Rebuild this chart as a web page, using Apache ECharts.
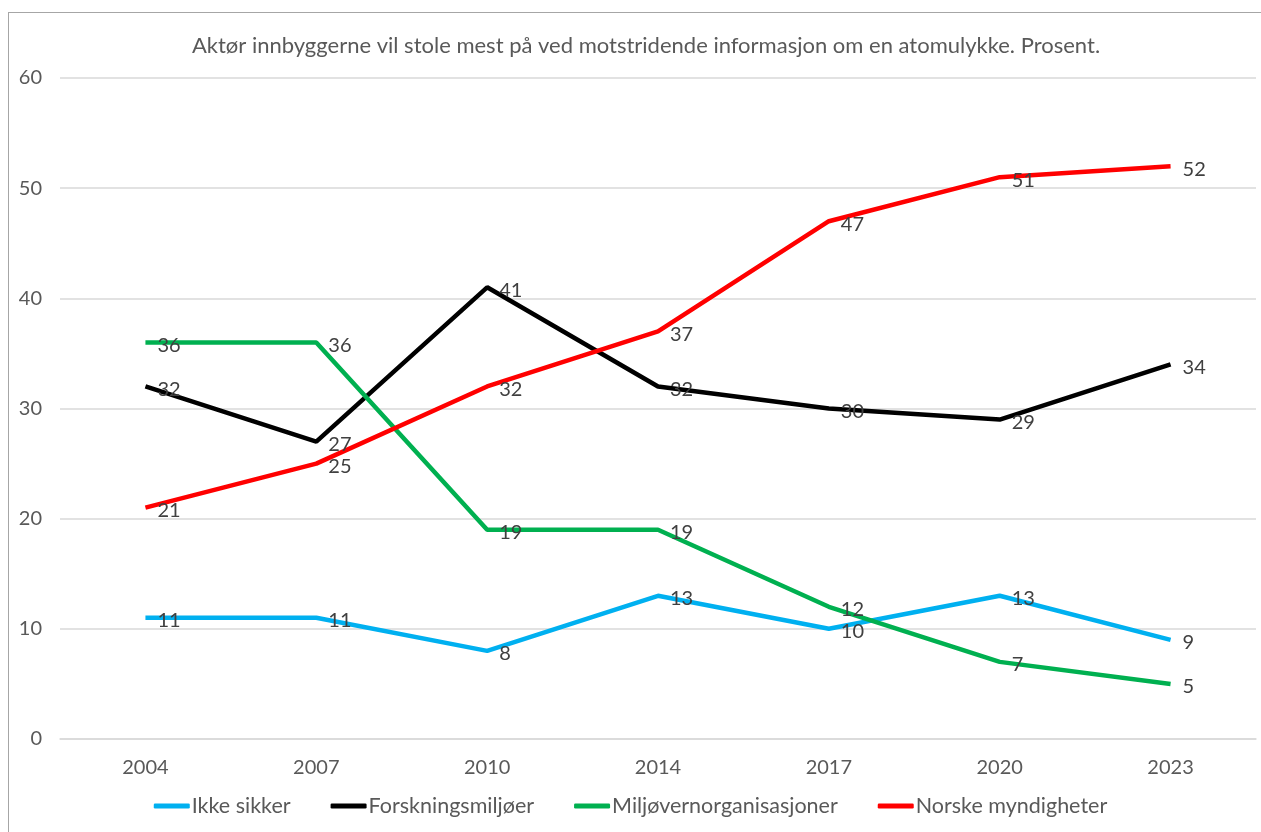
<!DOCTYPE html>
<html>
<head>
<meta charset="utf-8">
<script src="https://cdn.jsdelivr.net/npm/echarts@6/dist/echarts.min.js"></script>
<style>
  html, body { margin: 0; padding: 0; background: #fff; }
  .frame {
    position: absolute; left: 8px; top: 12px; width: 1260px; height: 830px;
    border: 1px solid #a6a6a6; box-sizing: border-box;
  }
  #myChart { position: absolute; left: 0; top: 0; width: 1261px; height: 832px; }
</style>
</head>
<body>
<div class="frame"></div>
<div id="myChart"></div>
<script>
// år
const years = ["2004", "2007", "2010", "2014", "2017", "2020", "2023"];
// serier
const ikkeSikker = [11, 11, 8, 13, 10, 13, 9];
const forskning = [32, 27, 41, 32, 30, 29, 34];
const miljo = [36, 36, 19, 19, 12, 7, 5];
const myndigheter = [21, 25, 32, 37, 47, 51, 52];

const font = "Lato, 'Noto Sans', sans-serif";

function lineSeries(name, data, color) {
  return {
    name: name,
    type: "line",
    data: data,
    symbol: "circle",
    symbolSize: 0,
    showSymbol: true,
    lineStyle: { color: color, width: 4.5 },
    itemStyle: { color: color },
    label: {
      show: true,
      position: "right",
      distance: 12,
      offset: [0, 3],
      color: "#404040",
      fontSize: 20,
      fontFamily: font
    }
  };
}

let myChart = echarts.init(document.getElementById("myChart"));
myChart.setOption({
  animation: false,
  title: {
    text: "Aktør innbyggerne vil stole mest på ved motstridende informasjon om en atomulykke. Prosent.",
    left: 641,
    textAlign: "center",
    top: 30,
    textStyle: { color: "#595959", fontSize: 22, fontWeight: "normal", fontFamily: font }
  },
  legend: {
    bottom: 10,
    left: "center",
    itemWidth: 36,
    itemHeight: 5,
    itemGap: 40,
    icon: "roundRect",
    textStyle: { color: "#595959", fontSize: 21.5, fontFamily: font, padding: [0, 0, 0, -3] },
    data: ["Ikke sikker", "Forskningsmiljøer", "Miljøvernorganisasjoner", "Norske myndigheter"]
  },
  grid: { left: 60, right: 5, top: 78, bottom: 93 },
  xAxis: {
    type: "category",
    data: years,
    boundaryGap: true,
    axisLine: { lineStyle: { color: "#d9d9d9", width: 1.5 } },
    axisTick: { show: false },
    axisLabel: { color: "#595959", fontSize: 20, fontFamily: font, margin: 19 }
  },
  yAxis: {
    type: "value",
    min: 0,
    max: 60,
    interval: 10,
    axisLine: { show: false },
    axisTick: { show: false },
    splitLine: { lineStyle: { color: "#d9d9d9", width: 1.5 } },
    axisLabel: { color: "#595959", fontSize: 20, fontFamily: font, margin: 18 }
  },
  series: [
    lineSeries("Ikke sikker", ikkeSikker, "#00b0f0"),
    lineSeries("Forskningsmiljøer", forskning, "#000000"),
    lineSeries("Miljøvernorganisasjoner", miljo, "#00b050"),
    lineSeries("Norske myndigheter", myndigheter, "#ff0000")
  ]
});
</script>
</body>
</html>
